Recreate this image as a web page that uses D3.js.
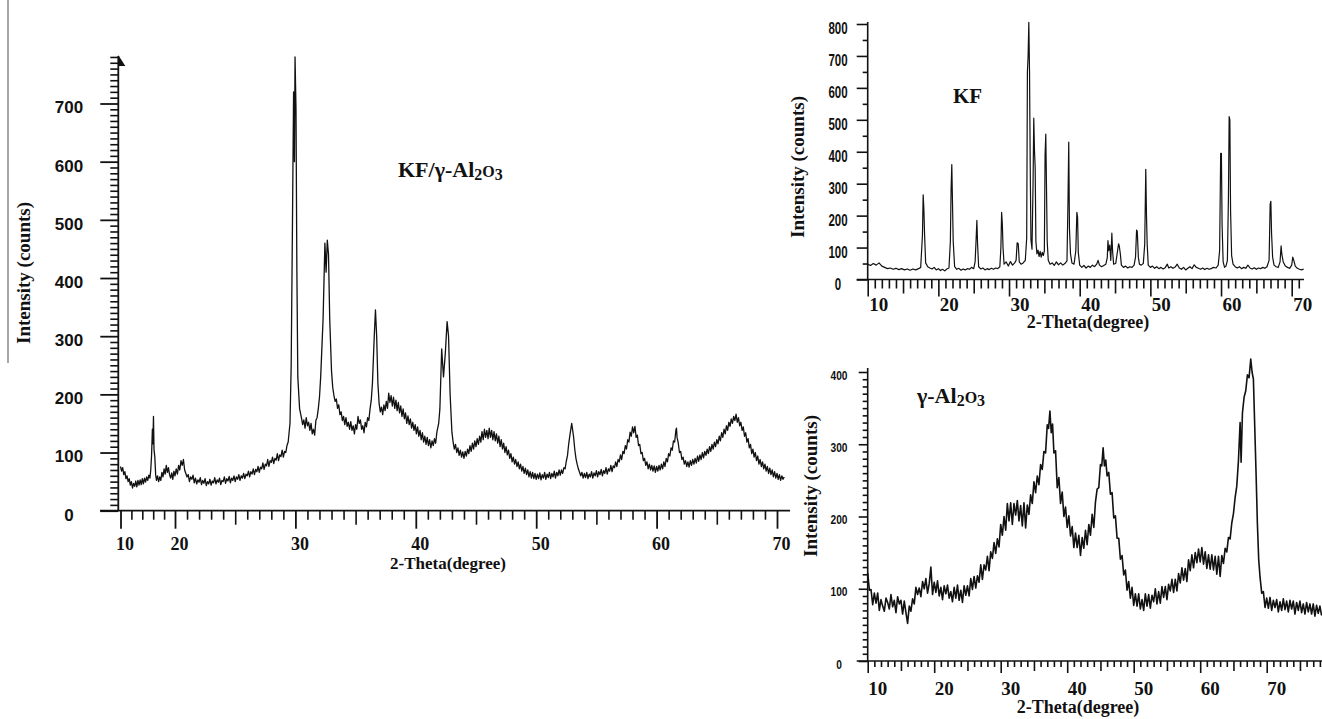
<!DOCTYPE html>
<html>
<head>
<meta charset="utf-8">
<script src="https://cdn.jsdelivr.net/npm/d3@7/dist/d3.min.js"></script>
<style>
  html, body { margin: 0; padding: 0; background: #fff; }
  svg { display: block; }
</style>
</head>
<body>
<svg id="chart" width="1322" height="719"></svg>
<script>
'use strict';

// KF/gamma-Al2O3 composite scan, [2-theta, counts]
var compositeScan = [
  [10,76],[10.2,68],[10.4,74],[10.6,62],[10.8,67],[11,55],[11.2,60],[11.4,50],[11.6,55],[11.8,44],
  [12,50],[12.2,39],[12.4,47],[12.6,42],[12.8,51],[13,41],[13.2,52],[13.4,44],[13.6,53],[13.8,45],
  [14,55],[14.2,46],[14.4,56],[14.6,49],[14.8,58],[15,52],[15.2,61],[15.4,56],[15.55,70],[15.7,95],
  [15.85,140],[15.95,115],[16.05,162],[16.15,105],[16.3,92],[16.45,62],[16.6,52],[16.8,60],[17,50],[17.2,58],
  [17.4,52],[17.6,66],[17.8,58],[18,72],[18.2,63],[18.4,78],[18.6,66],[18.8,74],[19,62],[19.2,56],
  [19.4,65],[19.6,54],[19.8,68],[20,60],[20.1,72],[20.2,63],[20.3,78],[20.4,70],[20.5,86],[20.6,78],
  [20.7,88],[20.8,70],[20.9,64],[21,58],[21.1,62],[21.2,50],[21.3,58],[21.4,54],[21.5,61],[21.6,48],
  [21.7,56],[21.8,46],[21.9,53],[22,49],[22.1,57],[22.2,45],[22.3,52],[22.4,47],[22.5,55],[22.6,43],
  [22.7,50],[22.8,46],[22.9,54],[23,44],[23.1,51],[23.2,48],[23.3,57],[23.4,46],[23.5,53],[23.6,49],
  [23.7,56],[23.8,45],[23.9,52],[24,50],[24.1,58],[24.2,47],[24.3,55],[24.4,51],[24.5,59],[24.6,48],
  [24.7,56],[24.8,52],[24.9,60],[25,50],[25.1,58],[25.2,54],[25.3,62],[25.4,52],[25.5,60],[25.6,56],
  [25.7,64],[25.8,55],[25.9,63],[26,60],[26.1,68],[26.2,58],[26.3,67],[26.4,63],[26.5,72],[26.6,62],
  [26.7,71],[26.8,67],[26.9,76],[27,66],[27.1,75],[27.2,72],[27.3,82],[27.4,71],[27.5,80],[27.6,77],
  [27.7,88],[27.8,76],[27.9,86],[28,83],[28.1,92],[28.2,81],[28.3,90],[28.4,87],[28.5,98],[28.6,86],
  [28.7,96],[28.8,93],[28.9,104],[29,92],[29.1,102],[29.2,100],[29.3,112],[29.4,118],[29.55,150],[29.65,250],
  [29.75,480],[29.85,720],[29.92,600],[29.97,780],[30.05,690],[30.12,420],[30.2,230],[30.35,175],[30.5,160],[30.6,148],
  [30.7,156],[30.8,142],[30.9,160],[31,146],[31.1,152],[31.2,138],[31.3,150],[31.4,132],[31.5,140],[31.6,130],
  [31.7,155],[31.8,160],[31.9,175],[32,195],[32.1,230],[32.3,330],[32.45,460],[32.55,410],[32.65,465],[32.75,440],
  [32.85,330],[33,240],[33.1,212],[33.2,198],[33.3,188],[33.4,192],[33.5,176],[33.6,182],[33.7,165],[33.8,170],
  [33.9,155],[34,162],[34.1,148],[34.2,160],[34.3,145],[34.4,152],[34.5,140],[34.6,153],[34.7,138],[34.8,146],
  [34.9,132],[35,148],[35.1,140],[35.2,162],[35.3,150],[35.4,156],[35.5,140],[35.6,146],[35.7,134],[35.8,152],
  [35.9,144],[36,160],[36.1,155],[36.2,175],[36.3,190],[36.4,220],[36.55,300],[36.65,345],[36.75,300],[36.85,220],
  [36.95,185],[37.05,170],[37.15,178],[37.25,165],[37.35,182],[37.45,172],[37.55,188],[37.65,176],[37.75,202],[37.85,186],
  [37.95,198],[38.05,180],[38.15,195],[38.25,176],[38.35,190],[38.45,172],[38.55,186],[38.65,168],[38.75,180],[38.85,162],
  [38.95,175],[39.05,158],[39.15,168],[39.25,150],[39.35,163],[39.45,148],[39.55,158],[39.65,142],[39.75,152],[39.85,138],
  [39.95,148],[40.05,132],[40.15,144],[40.25,128],[40.35,138],[40.45,122],[40.55,134],[40.65,118],[40.75,128],[40.85,114],
  [40.95,126],[41.05,112],[41.15,122],[41.25,108],[41.35,120],[41.45,112],[41.55,124],[41.65,116],[41.75,135],[41.9,150],
  [42,175],[42.15,278],[42.3,230],[42.45,270],[42.6,325],[42.72,300],[42.85,200],[43,135],[43.1,118],[43.2,106],
  [43.3,114],[43.4,100],[43.5,108],[43.6,95],[43.7,104],[43.8,92],[43.9,101],[44,90],[44.1,102],[44.2,94],
  [44.3,106],[44.4,98],[44.5,112],[44.6,102],[44.7,116],[44.8,106],[44.9,120],[45,110],[45.1,124],[45.2,114],
  [45.3,128],[45.4,118],[45.5,136],[45.6,122],[45.7,140],[45.8,126],[45.9,138],[46,124],[46.1,142],[46.2,126],
  [46.3,138],[46.4,122],[46.5,136],[46.6,120],[46.7,132],[46.8,116],[46.9,128],[47,110],[47.1,122],[47.2,106],
  [47.3,116],[47.4,100],[47.5,110],[47.6,96],[47.7,104],[47.8,90],[47.9,98],[48,84],[48.1,92],[48.2,80],
  [48.3,88],[48.4,76],[48.5,84],[48.6,72],[48.7,80],[48.8,68],[48.9,76],[49,64],[49.1,73],[49.2,62],
  [49.3,70],[49.4,58],[49.5,67],[49.6,56],[49.7,66],[49.8,55],[49.9,64],[50,54],[50.1,63],[50.2,55],
  [50.3,65],[50.4,53],[50.5,62],[50.6,56],[50.7,66],[50.8,54],[50.9,63],[51,57],[51.1,66],[51.2,55],
  [51.3,64],[51.4,58],[51.5,68],[51.6,56],[51.7,66],[51.8,60],[51.9,70],[52,61],[52.1,70],[52.2,64],
  [52.3,74],[52.4,72],[52.5,85],[52.6,95],[52.7,115],[52.8,130],[52.95,150],[53.1,128],[53.2,106],[53.3,90],
  [53.4,80],[53.5,72],[53.6,66],[53.7,60],[53.8,66],[53.9,56],[54,64],[54.1,57],[54.2,66],[54.3,55],
  [54.4,63],[54.5,58],[54.6,67],[54.7,56],[54.8,65],[54.9,60],[55,69],[55.1,58],[55.2,67],[55.3,62],
  [55.4,71],[55.5,60],[55.6,69],[55.7,64],[55.8,74],[55.9,63],[56,72],[56.1,68],[56.2,78],[56.3,67],
  [56.4,77],[56.5,74],[56.6,84],[56.7,76],[56.8,88],[56.9,84],[57,96],[57.1,88],[57.2,102],[57.3,98],
  [57.4,112],[57.5,106],[57.6,122],[57.7,118],[57.8,135],[57.9,128],[58,144],[58.1,134],[58.2,145],[58.3,126],
  [58.4,130],[58.5,112],[58.6,114],[58.7,98],[58.8,100],[58.9,86],[59,90],[59.1,78],[59.2,84],[59.3,72],
  [59.4,80],[59.5,70],[59.6,78],[59.7,68],[59.8,77],[59.9,66],[60,76],[60.1,68],[60.2,78],[60.3,70],
  [60.4,80],[60.5,72],[60.6,84],[60.7,76],[60.8,90],[60.9,84],[61,98],[61.1,94],[61.2,108],[61.3,104],
  [61.4,120],[61.5,118],[61.6,138],[61.65,142],[61.7,126],[61.8,116],[61.9,100],[62,102],[62.1,88],[62.2,92],
  [62.3,80],[62.4,86],[62.5,76],[62.6,84],[62.7,75],[62.8,86],[62.9,78],[63,88],[63.1,80],[63.2,90],
  [63.3,82],[63.4,94],[63.5,85],[63.6,96],[63.7,88],[63.8,100],[63.9,91],[64,102],[64.1,95],[64.2,106],
  [64.3,98],[64.4,110],[64.5,102],[64.6,114],[64.7,106],[64.8,118],[64.9,110],[65,122],[65.1,115],[65.2,128],
  [65.3,120],[65.4,134],[65.5,126],[65.6,140],[65.7,132],[65.8,146],[65.9,138],[66,152],[66.1,145],[66.2,158],
  [66.3,150],[66.4,162],[66.5,155],[66.6,166],[66.7,152],[66.8,160],[66.9,146],[67,152],[67.1,138],[67.2,144],
  [67.3,128],[67.4,134],[67.5,118],[67.6,124],[67.7,108],[67.8,114],[67.9,98],[68,106],[68.1,92],[68.2,100],
  [68.3,86],[68.4,94],[68.5,80],[68.6,88],[68.7,76],[68.8,84],[68.9,72],[69,80],[69.1,68],[69.2,76],
  [69.3,64],[69.4,73],[69.5,62],[69.6,70],[69.7,58],[69.8,67],[69.9,56],[70,64],[70.1,54],[70.2,62],
  [70.3,52],[70.4,60],[70.5,54],[70.6,58]
];

// KF reference scan
var kfScan = [
  [10,48],[10.4,44],[10.8,50],[11.2,45],[11.6,52],[12,42],[12.4,38],[12.8,34],[13.2,36],[13.6,32],
  [14,35],[14.4,31],[14.8,34],[15.2,30],[15.6,33],[16,29],[16.4,33],[16.8,30],[17.2,34],[17.5,38],
  [17.75,140],[17.85,265],[17.95,220],[18.05,140],[18.2,52],[18.5,40],[18.8,36],[19.1,33],[19.4,38],[19.7,30],
  [20,34],[20.3,28],[20.6,32],[20.9,27],[21.2,33],[21.5,36],[21.7,120],[21.8,280],[21.9,360],[22,240],
  [22.1,120],[22.3,40],[22.6,32],[22.9,35],[23.2,29],[23.5,33],[23.8,30],[24.1,34],[24.4,32],[24.7,38],
  [25,34],[25.2,55],[25.35,130],[25.45,185],[25.55,110],[25.7,40],[26,33],[26.3,36],[26.6,30],[26.9,34],
  [27.2,31],[27.5,35],[27.8,32],[28.1,36],[28.4,34],[28.7,40],[28.85,100],[28.95,210],[29.05,175],[29.15,100],
  [29.3,48],[29.6,55],[29.9,42],[30.2,56],[30.5,45],[30.8,52],[31,60],[31.15,115],[31.3,112],[31.45,55],
  [31.7,48],[32,52],[32.3,60],[32.5,130],[32.6,650],[32.7,700],[32.8,805],[32.9,650],[33,350],[33.1,125],
  [33.25,95],[33.4,300],[33.5,505],[33.6,405],[33.7,350],[33.8,120],[33.95,80],[34.1,92],[34.25,72],[34.4,88],
  [34.55,70],[34.7,85],[34.85,75],[35,90],[35.1,390],[35.2,455],[35.3,290],[35.4,120],[35.55,60],[35.8,48],
  [36.1,52],[36.4,44],[36.7,55],[37,46],[37.3,52],[37.6,45],[37.9,50],[38.2,58],[38.35,255],[38.45,430],
  [38.55,160],[38.7,80],[38.9,52],[39.2,48],[39.45,90],[39.6,210],[39.7,195],[39.8,85],[40,45],[40.3,38],
  [40.6,44],[40.9,36],[41.2,42],[41.5,38],[41.8,45],[42.1,40],[42.4,48],[42.6,60],[42.8,45],[43.1,40],
  [43.4,44],[43.7,48],[43.9,68],[44,122],[44.1,90],[44.25,108],[44.4,60],[44.55,145],[44.65,90],[44.8,48],
  [45.1,50],[45.5,112],[45.6,105],[45.75,80],[45.9,45],[46.2,38],[46.5,42],[46.8,36],[47.1,40],[47.4,38],
  [47.7,45],[47.9,70],[48.05,155],[48.15,150],[48.3,70],[48.45,48],[48.7,45],[49,50],[49.2,110],[49.35,345],
  [49.45,200],[49.55,110],[49.7,45],[50,38],[50.3,42],[50.6,35],[50.9,40],[51.2,34],[51.5,38],[51.8,33],
  [52.1,37],[52.4,48],[52.6,36],[52.9,40],[53.2,35],[53.5,39],[53.8,48],[54.1,36],[54.4,32],[54.7,38],
  [55,30],[55.3,35],[55.6,40],[55.9,34],[56.2,46],[56.5,38],[56.8,35],[57.1,32],[57.4,36],[57.7,31],
  [58,35],[58.3,32],[58.6,34],[58.9,38],[59.3,36],[59.6,45],[59.8,90],[59.95,395],[60.05,395],[60.15,170],
  [60.3,55],[60.5,38],[60.7,42],[60.9,60],[61.05,260],[61.15,510],[61.25,500],[61.35,215],[61.5,75],[61.7,48],
  [62,40],[62.3,36],[62.6,40],[62.9,34],[63.2,38],[63.5,35],[63.8,45],[64.1,36],[64.4,33],[64.7,37],
  [65,32],[65.3,36],[65.6,34],[65.9,38],[66.2,35],[66.5,40],[66.8,60],[66.95,235],[67.05,245],[67.15,145],
  [67.3,70],[67.5,45],[67.8,40],[68.1,38],[68.35,55],[68.5,105],[68.6,80],[68.8,55],[69.1,42],[69.4,38],
  [69.7,35],[70,45],[70.15,70],[70.3,60],[70.5,42],[70.8,35],[71.1,32],[71.4,30],[71.7,33]
];

// gamma-Al2O3 reference scan
var aluminaScan = [
  [10,122],[10.25,98],[10.5,99],[10.75,78],[11,94],[11.25,80],[11.5,94],[11.75,70],[12,85],[12.25,76],
  [12.5,69],[12.75,87],[13,81],[13.25,72],[13.5,92],[13.75,75],[14,84],[14.25,67],[14.5,89],[14.75,79],
  [15,84],[15.25,65],[15.5,83],[15.75,67],[16,52],[16.25,76],[16.5,69],[16.75,86],[17,79],[17.25,102],
  [17.5,92],[17.75,101],[18,89],[18.25,110],[18.5,100],[18.75,114],[19,94],[19.25,107],[19.5,130],[19.75,92],
  [20,109],[20.25,95],[20.5,111],[20.75,90],[21,102],[21.25,85],[21.5,104],[21.75,93],[22,105],[22.25,87],
  [22.5,96],[22.75,82],[23,102],[23.25,87],[23.5,105],[23.75,84],[24,98],[24.25,81],[24.5,104],[24.75,91],
  [25,104],[25.25,90],[25.5,114],[25.75,99],[26,117],[26.25,101],[26.5,118],[26.75,109],[27,133],[27.25,113],
  [27.5,133],[27.75,126],[28,145],[28.25,125],[28.5,151],[28.75,142],[29,164],[29.25,149],[29.5,169],[29.75,158],
  [30,189],[30.25,174],[30.5,200],[30.75,181],[31,218],[31.25,194],[31.5,219],[31.75,189],[32,218],[32.25,202],
  [32.5,222],[32.75,194],[33,215],[33.25,187],[33.5,219],[33.75,184],[34,216],[34.25,203],[34.5,230],[34.75,218],
  [35,248],[35.25,233],[35.5,256],[35.75,244],[36,272],[36.25,265],[36.5,290],[36.75,288],[37,327],[37.2,322],
  [37.4,346],[37.6,316],[37.8,328],[38,288],[38.25,291],[38.5,240],[38.75,254],[39,218],[39.25,234],[39.5,200],
  [39.75,213],[40,185],[40.25,201],[40.5,173],[40.75,186],[41,157],[41.25,177],[41.5,157],[41.75,174],[42,146],
  [42.25,171],[42.5,156],[42.75,181],[43,161],[43.25,189],[43.5,174],[43.75,203],[44,185],[44.25,220],[44.5,238],
  [44.75,240],[45,272],[45.2,270],[45.4,295],[45.6,270],[45.8,278],[46,256],[46.25,261],[46.5,231],[46.75,233],
  [47,198],[47.25,201],[47.5,170],[47.75,170],[48,141],[48.25,146],[48.5,119],[48.75,126],[49,98],[49.25,110],
  [49.5,87],[49.75,102],[50,77],[50.25,93],[50.5,76],[50.75,93],[51,72],[51.25,85],[51.5,70],[51.75,93],
  [52,76],[52.25,92],[52.5,73],[52.75,91],[53,82],[53.25,100],[53.5,79],[53.75,96],[54,80],[54.25,103],
  [54.5,88],[54.75,103],[55,85],[55.25,106],[55.5,97],[55.75,113],[56,95],[56.25,113],[56.5,97],[56.75,121],
  [57,108],[57.25,129],[57.5,112],[57.75,128],[58,110],[58.25,140],[58.5,125],[58.75,147],[59,129],[59.25,150],
  [59.5,136],[59.75,155],[60,137],[60.25,157],[60.5,134],[60.75,151],[61,128],[61.25,147],[61.5,127],[61.75,147],
  [62,126],[62.25,145],[62.5,120],[62.75,145],[63,117],[63.25,146],[63.5,135],[63.75,156],[64,151],[64.25,171],
  [64.5,169],[64.75,191],[65,204],[65.25,226],[65.5,242],[65.75,277],[66,330],[66.15,275],[66.35,343],[66.6,365],
  [66.85,374],[67.1,396],[67.35,392],[67.6,418],[67.8,400],[68,390],[68.2,325],[68.4,260],[68.6,190],[68.8,140],
  [69,116],[69.25,94],[69.5,96],[69.75,74],[70,87],[70.25,73],[70.5,88],[70.75,70],[71,84],[71.25,74],
  [71.5,85],[71.75,68],[72,82],[72.25,70],[72.5,86],[72.75,71],[73,83],[73.25,68],[73.5,84],[73.75,72],
  [74,83],[74.25,65],[74.5,81],[74.75,70],[75,83],[75.25,67],[75.5,79],[75.75,65],[76,81],[76.25,68],
  [76.5,79],[76.75,65],[77,79],[77.25,62],[77.5,77],[77.75,66],[78,76],[78.25,63]
];

// tick labels
var compositeXLabels = [10, 20, 30, 40, 50, 60, 70];
var compositeYLabels = [0, 100, 200, 300, 400, 500, 600, 700];
var kfXLabels = [10, 20, 30, 40, 50, 60, 70];
var kfYLabels = [0, 100, 200, 300, 400, 500, 600, 700, 800];
var aluminaXLabels = [10, 20, 30, 40, 50, 60, 70];
var aluminaYLabels = [0, 100, 200, 300, 400];

(function draw() {
  var svg = d3.select('#chart');
  var serif = "'Liberation Serif', 'Times New Roman', serif";
  var sans = "'Liberation Sans', Arial, sans-serif";
  var ink = '#111';

  function notIn(list) {
    return function (v) { return list.indexOf(v) < 0; };
  }

  function tickLayer(g, axisFn, scale, values, size) {
    g.append('g')
      .call(axisFn(scale).tickValues(values).tickSize(size).tickFormat(''))
      .call(function (a) { a.select('.domain').remove(); })
      .selectAll('line').style('stroke', ink).style('stroke-width', 1.6);
  }

  function plotLine(g, data, x, y, width) {
    g.append('path')
      .datum(data)
      .attr('d', d3.line().x(function (d) { return x(d[0]); }).y(function (d) { return y(d[1]); }))
      .style('fill', 'none')
      .style('stroke', ink)
      .style('stroke-width', width)
      .style('stroke-linejoin', 'round');
  }

  function title(x, y, size, parts, rotate) {
    var t = svg.append('text')
      .attr('x', x).attr('y', y)
      .style('font-family', serif).style('font-weight', 'bold')
      .style('font-size', size + 'px').style('fill', ink);
    if (rotate) t.attr('text-anchor', 'middle').attr('transform', 'rotate(-90,' + x + ',' + y + ')');
    parts.forEach(function (p) {
      var s = t.append('tspan').text(p[0]);
      if (p[1]) s.style('font-size', Math.round(size * 0.72) + 'px').attr('dy', p[1]);
    });
    return t;
  }

  // ---------- left: KF/gamma-Al2O3 ----------
  svg.append('line').attr('x1', 8).attr('x2', 8).attr('y1', 0).attr('y2', 363)
    .style('stroke', '#8a8a8a').style('stroke-width', 1.5);

  var mx = d3.scaleLinear().domain([10, 20, 70]).range([120.5, 175, 777]);
  var my = d3.scaleLinear().domain([0, 700]).range([510.7, 103.5]);
  var mg = svg.append('g').attr('transform', 'translate(0,510.7)');
  var mMinor = [12, 14, 16, 18].concat(d3.range(21, 70).filter(function (v) { return v % 5 !== 0; }));
  tickLayer(mg, d3.axisBottom, mx, mMinor, 9);
  tickLayer(mg, d3.axisBottom, mx, [25, 35, 45, 55, 65], 14);
  var mxAxis = mg.append('g').call(d3.axisBottom(mx).tickValues(compositeXLabels).tickSize(18));
  mxAxis.select('.domain').remove();
  mxAxis.selectAll('line').style('stroke', ink).style('stroke-width', 1.8);
  mxAxis.selectAll('text').attr('x', 4).attr('y', 39).attr('dy', null)
    .style('font-family', serif).style('font-weight', 'bold').style('font-size', '18px').style('fill', ink);
  mg.append('line').attr('x1', 100).attr('x2', 790).attr('y1', 0).attr('y2', 0)
    .style('stroke', ink).style('stroke-width', 1.8);

  var myg = svg.append('g').attr('transform', 'translate(118.3,0)');
  tickLayer(myg, d3.axisLeft, my, d3.range(10, 790, 10).filter(notIn(compositeYLabels)), 8);
  var myAxis = myg.append('g').call(d3.axisLeft(my).tickValues(compositeYLabels).tickSize(18));
  myAxis.select('.domain').remove();
  myAxis.selectAll('line').style('stroke', ink).style('stroke-width', 1.8);
  myAxis.selectAll('text').attr('x', -49.3).attr('dy', '0.55em').attr('text-anchor', 'middle')
    .style('font-family', sans).style('font-weight', 'bold').style('font-size', '17px').style('fill', ink);
  myg.append('line').attr('x1', 0).attr('x2', 0).attr('y1', 56).attr('y2', 510.7)
    .style('stroke', ink).style('stroke-width', 1.8);
  myg.append('path').attr('d', 'M0,55 L7,66 L0,66 Z').style('fill', ink);

  plotLine(svg, compositeScan, mx, my, 1.3);
  title(398, 177, 22, [['KF/γ-Al'], ['2', '3'], ['O', '-3'], ['3', '3']]);
  title(30, 273, 19, [['Intensity (counts)']], true);
  title(448, 569, 17, [['2-Theta(degree)']]).attr('text-anchor', 'middle');

  // ---------- top right: KF ----------
  var kx = d3.scaleLinear().domain([10, 70]).range([867.7, 1291.7]);
  var ky = d3.scaleLinear().domain([0, 800]).range([279.5, 24]);
  var kg = svg.append('g').attr('transform', 'translate(0,279.5)');
  tickLayer(kg, d3.axisBottom, kx, d3.range(11, 72).filter(function (v) { return v % 5 !== 0; }), 9);
  tickLayer(kg, d3.axisBottom, kx, [15, 25, 35, 45, 55, 65], 14);
  var kxAxis = kg.append('g').call(d3.axisBottom(kx).tickValues(kfXLabels).tickSize(17));
  kxAxis.select('.domain').remove();
  kxAxis.selectAll('line').style('stroke', ink).style('stroke-width', 1.6);
  kxAxis.selectAll('text').attr('x', 1).attr('y', 31).attr('dy', null).attr('text-anchor', 'start')
    .style('font-family', serif).style('font-weight', 'bold').style('font-size', '19px').style('fill', ink);
  kg.append('line').attr('x1', 856.7).attr('x2', 1304).style('stroke', ink).style('stroke-width', 1.6);

  var kyg = svg.append('g').attr('transform', 'translate(867.7,0)');
  tickLayer(kyg, d3.axisLeft, ky, d3.range(50, 800, 100), 5);
  var kyAxis = kyg.append('g').call(d3.axisLeft(ky).tickValues(kfYLabels).tickSize(11));
  kyAxis.select('.domain').remove();
  kyAxis.selectAll('line').style('stroke', ink).style('stroke-width', 1.6);
  kyAxis.selectAll('text').attr('x', 0).attr('dy', '0.35em').attr('text-anchor', 'middle')
    .attr('transform', 'translate(-29.7,4) scale(0.72,1)')
    .style('font-family', sans).style('font-weight', 'bold').style('font-size', '16px').style('fill', ink);
  kyg.append('line').attr('x1', 0).attr('x2', 0).attr('y1', 22).attr('y2', 279.5)
    .style('stroke', ink).style('stroke-width', 1.6);

  plotLine(svg, kfScan, kx, ky, 1.2);
  title(953, 103, 21, [['KF']]);
  title(804, 167, 19, [['Intensity (counts)']], true);
  title(1088, 328, 18, [['2-Theta(degree)']]).attr('text-anchor', 'middle');

  // ---------- bottom right: gamma-Al2O3 ----------
  var ax = d3.scaleLinear().domain([10, 70]).range([867.7, 1266.7]);
  var ay = d3.scaleLinear().domain([0, 400]).range([661, 372]);
  var ag = svg.append('g').attr('transform', 'translate(0,661)');
  tickLayer(ag, d3.axisBottom, ax, d3.range(11, 80).filter(function (v) { return v % 5 !== 0; }), 6);
  tickLayer(ag, d3.axisBottom, ax, [15, 25, 35, 45, 55, 65, 75], 10);
  var axAxis = ag.append('g').call(d3.axisBottom(ax).tickValues(aluminaXLabels).tickSize(12));
  axAxis.select('.domain').remove();
  axAxis.selectAll('line').style('stroke', ink).style('stroke-width', 1.6);
  axAxis.selectAll('text').attr('x', 0).attr('y', 34).attr('dy', null).attr('text-anchor', 'start')
    .style('font-family', serif).style('font-weight', 'bold').style('font-size', '19px').style('fill', ink);
  ag.append('line').attr('x1', 856.7).attr('x2', 1322).style('stroke', ink).style('stroke-width', 1.6);

  var ayg = svg.append('g').attr('transform', 'translate(867.7,0)');
  tickLayer(ayg, d3.axisLeft, ay, d3.range(10, 410, 10).filter(notIn(aluminaYLabels)), 5);
  var ayAxis = ayg.append('g').call(d3.axisLeft(ay).tickValues(aluminaYLabels).tickSize(9));
  ayAxis.select('.domain').remove();
  ayAxis.selectAll('line').style('stroke', ink).style('stroke-width', 1.6);
  ayAxis.selectAll('text').attr('x', 0).attr('dy', '0.35em').attr('text-anchor', 'middle')
    .attr('transform', 'translate(-28.7,3) scale(0.85,1)')
    .style('font-family', sans).style('font-weight', 'bold').style('font-size', '12px').style('fill', ink);
  ayg.append('line').attr('x1', 0).attr('x2', 0).attr('y1', 368).attr('y2', 661)
    .style('stroke', ink).style('stroke-width', 1.6);

  plotLine(svg, aluminaScan, ax, ay, 1.6);
  title(917, 403, 22, [['γ-Al'], ['2', '3'], ['O', '-3'], ['3', '3']]);
  title(817, 486, 19, [['Intensity (counts)']], true);
  title(1078, 713, 18, [['2-Theta(degree)']]).attr('text-anchor', 'middle');
}());
</script>
</body>
</html>
